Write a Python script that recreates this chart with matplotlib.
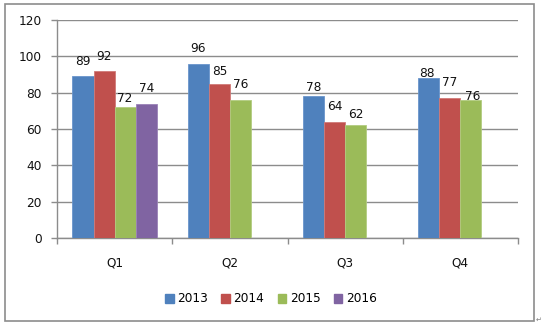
import matplotlib
matplotlib.use("Agg")
import matplotlib.pyplot as plt
import numpy as np
from matplotlib.patches import Rectangle, Patch

categories = ["Q1", "Q2", "Q3", "Q4"]
series_names = ["2013", "2014", "2015", "2016"]
v2013 = [89, 96, 78, 88]
v2014 = [92, 85, 64, 77]
v2015 = [72, 76, 62, 76]
v2016 = [74, None, None, None]
series_values = [v2013, v2014, v2015, v2016]
yticks = [0, 20, 40, 60, 80, 100, 120]

colors = ["#4F81BD", "#C0504D", "#9BBB59", "#8064A2"]
edge_colors = ["#6A95CC", "#D07A78", "#B2CC80", "#9A82B8"]
# label offsets (px) per series per category: (dy, dx)
label_dy = [[10, 10, 4, 0], [9, 7, 10, 11], [4, 10, 6, -2], [10, 0, 0, 0]]
label_dx = [[0, 0, 0, -2], [0, 0, 0, 0], [0, 0, 0, 2], [0, 0, 0, 0]]

W, H = 542, 326
fig = plt.figure(figsize=(W / 100, H / 100), dpi=100)
fig.patch.set_facecolor("white")
ax = fig.add_axes([57 / W, 1 - 238 / H, (518 - 57) / W, (238 - 20) / H])

plt.rcParams["font.family"] = "DejaVu Sans"
fs = 8.7
w = 0.183
x = np.arange(len(categories))
for j, (name, vals) in enumerate(zip(series_names, series_values)):
    for i, v in enumerate(vals):
        if v is None:
            continue
        xc = x[i] + (j - 1.5) * w
        ax.bar(xc, v, width=w, color=colors[j], edgecolor=edge_colors[j],
               linewidth=0.6, zorder=3)
        ax.annotate(str(v), (xc, v), xytext=(label_dx[j][i] * 0.72, label_dy[j][i] * 0.72 - 1),
                    textcoords="offset points", ha="center", va="bottom",
                    fontsize=fs, color="#111111", zorder=4)

ax.set_xlim(-0.5, 3.5)
ax.set_ylim(0, 120)
ax.set_yticks(yticks)
ax.set_yticklabels([str(t) for t in yticks], fontsize=fs)
ax.yaxis.grid(True, color="#8C8C8C", linewidth=1.0, zorder=0)
ax.set_axisbelow(True)

ax.set_xticks(np.arange(-0.5, 4, 1.0))
ax.set_xticklabels([])
ax.set_xticks(x, minor=True)
ax.set_xticklabels(categories, minor=True, fontsize=fs)
ax.tick_params(axis="x", which="major", length=4, color="#8C8C8C", width=1)
ax.tick_params(axis="x", which="minor", length=0, pad=13)
ax.tick_params(axis="y", length=4, color="#8C8C8C", width=1, pad=7, labelcolor="#111111")
ax.tick_params(axis="x", which="minor", labelcolor="#111111")

for s in ["top", "right"]:
    ax.spines[s].set_visible(False)
for s in ["left", "bottom"]:
    ax.spines[s].set_color("#8C8C8C")
    ax.spines[s].set_linewidth(1)

handles = [Patch(facecolor=c, edgecolor=c) for c in colors]
fig.legend(handles, series_names, loc="center", bbox_to_anchor=(0.5, 1 - 299 / H),
           ncol=4, frameon=False, fontsize=fs, handlelength=0.7, handleheight=0.7,
           handletextpad=0.3, columnspacing=1.1)

fig.patches.append(Rectangle((5 / W, 1 - 321 / H), (534 - 5) / W, (321 - 4) / H,
                             transform=fig.transFigure, fill=False,
                             edgecolor="#8C8C8C", linewidth=1.2))
fig.text(536 / W, 1 - 320 / H, "↵", fontsize=5, color="#808080", ha="left", va="center")

fig.savefig("out.png", dpi=100)
